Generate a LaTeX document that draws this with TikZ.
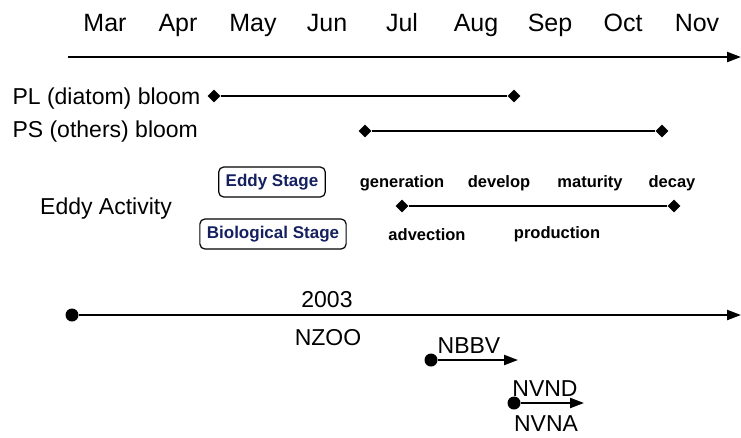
\documentclass[tikz,border=0pt]{standalone}
\usepackage{fontspec}
\setmainfont{Liberation Sans}
\usetikzlibrary{shapes.geometric, arrows.meta, positioning}
\definecolor{stageblue}{RGB}{20,32,96}

\begin{document}
\begin{tikzpicture}[x = 1pt, y = -1pt,
    month/.style = {anchor = base, font = \fontsize{25}{28}\selectfont},
    rowlabel/.style = {anchor = base, font = \fontsize{23}{26}\selectfont},
    phase/.style = {anchor = base, font = \bfseries\fontsize{16.5}{19}\selectfont},
    stagebox/.style = {draw, rounded corners = 5pt, line width = 1.2pt,
      text = stageblue, font = \bfseries\fontsize{17}{20}\selectfont,
      inner xsep = 7pt, text height = 12pt, text depth = 3.5pt,
      minimum height = 30pt},
    endmark/.style = {diamond, fill, inner sep = 0pt, minimum size = 13pt},
    startdot/.style = {circle, fill, inner sep = 0pt, minimum size = 13pt},
    span/.style = {line width = 2.2pt},
    timeline/.style = {line width = 2.2pt, -{Triangle[length = 14pt, width = 10pt]}},
  ]
  \useasboundingbox (0,0) rectangle (741,437);

  % months
  \foreach \m/\x in {Mar/105, Apr/178, May/253, Jun/327, Jul/402,
                     Aug/476, Sep/550, Oct/623, Nov/697}
    \node [month] (month \m) at (\x,31) {\m};
  \coordinate (axis start) at (68,57);
  \coordinate (axis end)   at (741,57);
  \draw [timeline] (axis start) -- (axis end);

  % blooms
  \node [rowlabel, anchor = base west] (pl label) at (9,104) {PL (diatom) bloom};
  \node [endmark] (pl start) at (214,96) {};
  \node [endmark] (pl end)   at (514,96) {};
  \draw [span] (pl start) -- (pl end);

  \node [rowlabel, anchor = base west] (ps label) at (9,137) {PS (others) bloom};
  \node [endmark] (ps start) at (365,131) {};
  \node [endmark] (ps end)   at (662,131) {};
  \draw [span] (ps start) -- (ps end);

  % eddy activity
  \node [rowlabel] (eddy label) at (106,214) {Eddy Activity};
  \node [stagebox] (eddy stage) at (272,182) {Eddy Stage};
  \node [stagebox] (bio stage)  at (273,234) {Biological Stage};

  \node [phase] (generation) at (402,187) {generation};
  \node [phase] (develop)    at (499,187) {develop};
  \node [phase] (maturity)   at (590,187) {maturity};
  \node [phase] (decay)      at (672,187) {decay};
  \node [phase] (advection)  at (427,240) {advection};
  \node [phase] (production) at (557,238) {production};

  \node [endmark] (eddy start) at (402,206) {};
  \node [endmark] (eddy end)   at (674,206) {};
  \draw [span] (eddy start) -- (eddy end);

  % cruises
  \node [startdot] (zoo start) at (72,315) {};
  \coordinate (zoo end) at (741,315);
  \draw [timeline] (zoo start) -- (zoo end);
  \node [rowlabel] (year)  at (327,307) {2003};
  \node [rowlabel] (nzoo)  at (328,345) {NZOO};

  \node [startdot] (nbbv start) at (431,360) {};
  \coordinate (nbbv end) at (518,360);
  \draw [timeline] (nbbv start) -- (nbbv end);
  \node [rowlabel] (nbbv) at (469,353) {NBBV};

  \node [startdot] (nv start) at (514,403) {};
  \coordinate (nv end) at (584,403);
  \draw [timeline] (nv start) -- (nv end);
  \node [rowlabel] (nvnd) at (545,396) {NVND};
  \node [rowlabel] (nvna) at (546,431) {NVNA};
\end{tikzpicture}
\end{document}
